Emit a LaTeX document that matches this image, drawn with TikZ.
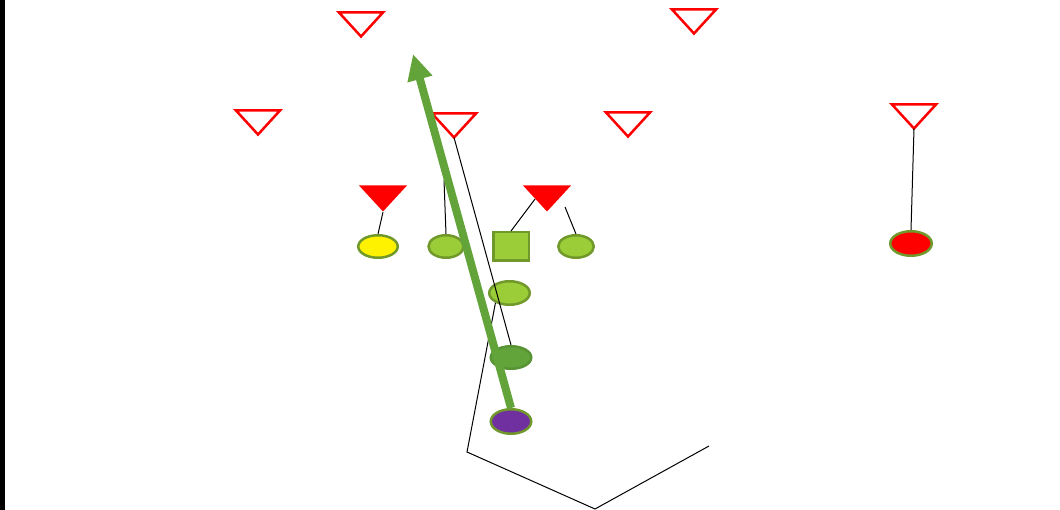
\documentclass[tikz,border=0pt]{standalone}
\usepackage{tikz}
\usetikzlibrary{shapes.geometric,arrows.meta}
\definecolor{lgreen}{HTML}{9ACD38}
\definecolor{lborder}{HTML}{71982B}
\definecolor{dgreen}{HTML}{62A33A}
\definecolor{purp}{HTML}{7030A0}
\begin{document}
\begin{tikzpicture}[x=1pt,y=-1pt,
		opentri/.style={isosceles triangle, isosceles triangle stretches, shape border rotate=270, minimum width=44, minimum height=24, inner sep=0, outer sep=0, draw=red, line width=2.5, fill=white, anchor=apex},
		fulltri/.style={isosceles triangle, isosceles triangle stretches, shape border rotate=270, minimum width=48, minimum height=26, inner sep=0, fill=red, anchor=apex},
		player/.style={ellipse, draw=lborder, line width=2.5, fill=lgreen, minimum width=38, minimum height=22.5, inner sep=0},
		route/.style={line width=1}]
				\useasboundingbox (0,0) rectangle (1060,510);
				\fill[black] (0,0) rectangle (5,510);
				% defence
				\node[opentri] (d1) at (361,36.5) {};
				\node[opentri] (d2) at (694,33.5) {};
				\node[opentri] (d3) at (258,134.5) {};
				\node[opentri] (d4) at (454,137.5) {};
				\node[opentri] (d5) at (628,136.5) {};
				\node[opentri] (d6) at (914,128.5) {};
				\node[fulltri] (lb1) at (383,212) {};
				\node[fulltri] (lb2) at (547,212) {};
				% offence
				\node[player, fill=yellow, minimum width=39.5] (te) at (378,246.5) {};
				\node[player, minimum width=35] (lg) at (446,246.5) {};
				\node[rectangle, draw=lborder, line width=2.5, fill=lgreen, minimum width=35.5, minimum height=28.5, inner sep=0] (ctr) at (511,246.5) {};
				\node[player, minimum width=35.5] (rg) at (576,246.5) {};
				\node[player, fill=red, minimum width=41.5, minimum height=24.5] (wr) at (911,243.5) {};
				\node[player, minimum width=40.5, minimum height=23.5] (qb) at (509.5,293) {};
				\node[player, fill=dgreen, draw=dgreen!90!black, minimum width=40.5, minimum height=22.5] (fb) at (511,357.5) {};
				\node[player, fill=purp, minimum width=40.5, minimum height=24.5] (tb) at (511,421.5) {};
				\coordinate (tip) at (413,54);
				\coordinate (lgtop) at (444,180);
				\coordinate (lbedge) at (535,199);
				\coordinate (rgtop) at (565,207);
				\coordinate (r1) at (467,452);
				\coordinate (r2) at (595,509);
				\coordinate (r3) at (709,446);
				% blocks and routes
				\draw[route] (lb1.apex) -- (te.north);
				\draw[route] (lgtop) -- (lg.north);
				\draw[route] (lbedge) -- (ctr.north);
				\draw[route] (rgtop) -- (rg.north);
				\draw[route] (d6.apex) -- (wr.north);
				\draw[route] (d4.apex) -- (fb.north);
				\draw[route] (qb.215) -- (r1) -- (r2) -- (r3);
				\draw[dgreen, line width=8, -{Triangle[length=26,width=24]}] (tb.north) -- (tip);
\end{tikzpicture}
\end{document}
